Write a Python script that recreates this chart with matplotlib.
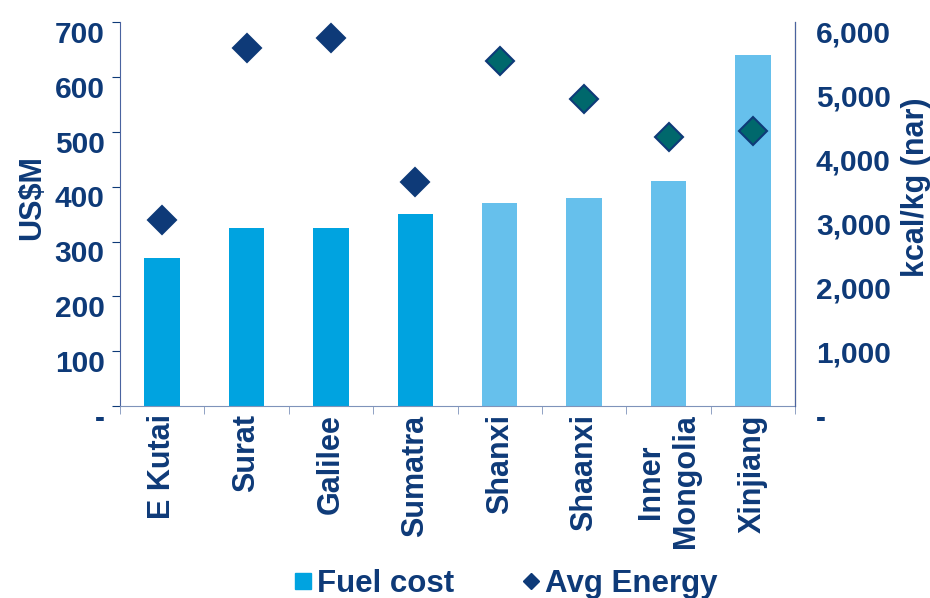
import matplotlib
matplotlib.use('Agg')
import matplotlib.pyplot as plt
import matplotlib.transforms as mtransforms
from matplotlib.lines import Line2D
import numpy as np

plt.rcParams['font.family'] = ['Liberation Sans', 'DejaVu Sans']
plt.rcParams['font.weight'] = 'bold'

# Datos por cuenca
regions = ['E Kutai', 'Surat', 'Galilee', 'Sumatra', 'Shanxi', 'Shaanxi', 'Inner\nMongolia', 'Xinjiang']
fuel_cost = [270, 325, 325, 350, 370, 380, 410, 640]          # US$M
avg_energy = [2900, 5600, 5750, 3500, 5400, 4800, 4200, 4300]  # kcal/kg (nar)

navy = '#0E3A78'
bar_colors = ['#00A3E0'] * 4 + ['#66C0EC'] * 4
diamond_colors = [navy] * 4 + ['#00686C'] * 4

fig = plt.figure(figsize=(9.3, 5.98), dpi=100)
ax = fig.add_axes([0.129, 0.321, 0.726, 0.642])
ax2 = ax.twinx()

x = np.arange(len(regions))
ax.bar(x, fuel_cost, width=0.42, color=bar_colors, zorder=2)
for xi, e, c in zip(x, avg_energy, diamond_colors):
    ax2.plot(xi, e, marker='D', ms=14.5, mfc=c, mec=navy, mew=1.5, ls='none')

ax.set_xlim(-0.5, 7.5)
ax.set_ylim(0, 700)
ax2.set_ylim(0, 6000)

fmt = lambda v, p: '-' if v == 0 else f'{int(v):,}'
ax.set_yticks(np.arange(0, 701, 100))
ax.yaxis.set_major_formatter(plt.FuncFormatter(fmt))
ax2.set_yticks(np.arange(0, 6001, 1000))
ax2.yaxis.set_major_formatter(plt.FuncFormatter(fmt))

# etiquetas de categoria
ax.set_xticks(x)
ax.set_xticklabels(regions, rotation=90, va='top', ha='center', multialignment='center')
ax.set_xticks(np.arange(-0.5, 8, 1), minor=True)
ax.tick_params(axis='x', which='major', length=0, pad=6, labelsize=22, labelcolor=navy)
ax.tick_params(axis='x', which='minor', length=6, color='#7F93BA', direction='out')
ax.tick_params(axis='y', length=6, color=navy, labelsize=21.5, labelcolor=navy, pad=5)
ax2.tick_params(axis='y', length=0, labelsize=21.5, labelcolor=navy, pad=15)

# bajar un poco los numeros de los ejes
off = mtransforms.ScaledTranslation(0, -7 / 72, fig.dpi_scale_trans)
for lab in ax.get_yticklabels() + ax2.get_yticklabels():
    lab.set_transform(lab.get_transform() + off)

for a in (ax, ax2):
    a.spines['top'].set_visible(False)
ax.spines['left'].set_color('#4A63A0')
ax.spines['bottom'].set_color('#7F93BA')
ax2.spines['right'].set_color('#4A63A0')
ax2.spines['left'].set_visible(False)
ax2.spines['bottom'].set_visible(False)

ax.set_ylabel('US\\$M', fontsize=22, fontweight='bold', color=navy)
ax.yaxis.set_label_coords(-0.108, 0.544)
ax2.set_ylabel('kcal/kg (nar)', fontsize=22, fontweight='bold', color=navy)
ax2.yaxis.set_label_coords(1.157, 0.57)

handles = [Line2D([], [], marker='s', ms=11, color='#00A3E0', ls='none'),
           Line2D([], [], marker='D', ms=8, color=navy, ls='none')]
fig.legend(handles, ['Fuel cost', 'Avg Energy'], loc='center',
           bbox_to_anchor=(506 / 930, 1 - 584 / 598), ncol=2, frameon=False,
           prop={'size': 22.5, 'weight': 'bold'}, labelcolor=navy,
           handlelength=0.5, handletextpad=0.2, columnspacing=2.2)

fig.savefig('out.png', dpi=100)
